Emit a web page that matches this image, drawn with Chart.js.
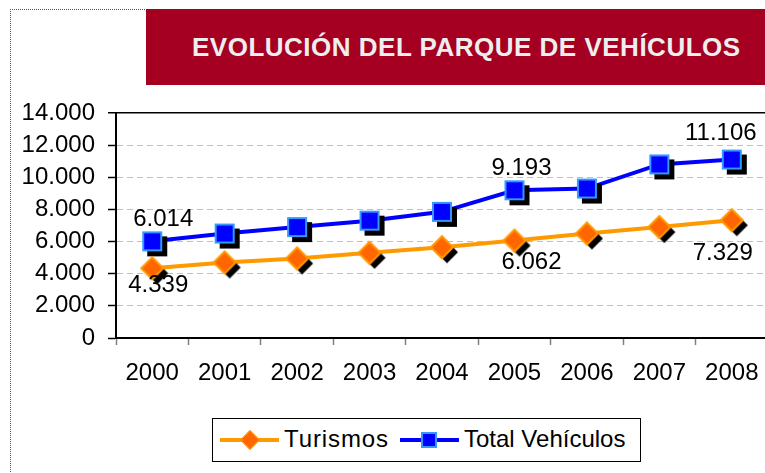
<!DOCTYPE html>
<html>
<head>
<meta charset="utf-8">
<script src="https://cdn.jsdelivr.net/npm/chart.js@4"></script>
<style>
  html, body { margin: 0; padding: 0; background: #fff; width: 765px; height: 473px; overflow: hidden; position: relative; font-family: "Liberation Sans", Arial, sans-serif; }
  #frame { position: absolute; left: 10px; top: 9px; width: 800px; height: 500px; border-left: 1px dotted #e0103c; border-top: 1px dotted #e0103c; }
  #chartCanvas { position: absolute; left: 0; top: 0; }
  #title { position: absolute; left: 146px; top: 9px; width: 640px; height: 76px; background: #a50021; color: #eeeeee; font-weight: bold; font-size: 26px; letter-spacing: 0.5px; line-height: 76px; padding-left: 46px; box-sizing: border-box; white-space: nowrap; }
  #legend { position: absolute; left: 212px; top: 418px; width: 429px; height: 44px; border: 1px solid #000; box-sizing: border-box; background: #fff; }
  .item { position: absolute; top: 0; height: 42px; }
  .line { position: absolute; top: 19px; height: 4px; width: 59px; }
  .mark { position: absolute; box-sizing: border-box; }
  .txt { position: absolute; top: 6px; font-size: 24px; line-height: 28px; color: #000; white-space: nowrap; }
</style>
</head>
<body>
<div id="frame"></div>
<canvas id="chartCanvas" width="800" height="473"></canvas>
<div id="title">EVOLUCIÓN DEL PARQUE DE VEHÍCULOS</div>
<div id="legend">
  <div class="item" style="left:7px">
    <div class="line" style="left:0;background:#ff9900"></div>
    <div class="mark" style="left:23px;top:14px;width:14px;height:14px;background:#ff6600;border:1px solid #ff9900;transform:rotate(45deg)"></div>
    <div class="txt" style="left:64px;letter-spacing:0.9px">Turismos</div>
  </div>
  <div class="item" style="left:187px">
    <div class="line" style="left:0;background:#0000ff"></div>
    <div class="mark" style="left:21px;top:13px;width:16px;height:16px;background:#0000ff;border:2px solid #3399ff"></div>
    <div class="txt" style="left:64px">Total Vehículos</div>
  </div>
</div>
<script>
const years = ['2000', '2001', '2002', '2003', '2004', '2005', '2006', '2007', '2008'];
const turismos = [4339, 4700, 4950, 5300, 5650, 6062, 6500, 6900, 7329];
const totalVehiculos = [6014, 6500, 6900, 7300, 7850, 9193, 9300, 10800, 11106];
const yTicks = [0, 2000, 4000, 6000, 8000, 10000, 12000, 14000];
const labelledPoints = [0, 5, 8];

function fmt(v) {
    return String(v).replace(/\B(?=(\d{3})+(?!\d))/g, '.');
}

// marker images with the black drop shadow baked in
function squareMarker() {
    const c = document.createElement('canvas');
    c.width = 40; c.height = 40;
    const g = c.getContext('2d');
    g.fillStyle = '#000';
    g.fillRect(15, 15, 20, 20);
    g.fillStyle = '#0000ff';
    g.fillRect(10, 10, 20, 20);
    g.strokeStyle = '#3399ff';
    g.lineWidth = 2;
    g.strokeRect(11, 11, 18, 18);
    return c;
}

function diamondMarker() {
    const c = document.createElement('canvas');
    c.width = 40; c.height = 40;
    const g = c.getContext('2d');
    const d = function(cx, cy, r) {
        g.beginPath();
        g.moveTo(cx, cy - r); g.lineTo(cx + r, cy); g.lineTo(cx, cy + r); g.lineTo(cx - r, cy);
        g.closePath();
    };
    d(25, 25, 11);
    g.fillStyle = '#000';
    g.fill();
    d(20, 20, 11);
    g.fillStyle = '#ff6600';
    g.fill();
    g.strokeStyle = '#ff9900';
    g.lineWidth = 2;
    g.stroke();
    return c;
}

// label offsets from the point centre (text centre)
const labelOffsets = [
    [[6, 17], [17, 22], [-9, 33]],
    [[11, -22], [7, -22], [-11, -26]]
];

const valueLabels = {
    id: 'valueLabels',
    afterDatasetsDraw(chart) {
        const ctx = chart.ctx;
        ctx.save();
        ctx.font = '24px "Liberation Sans", Arial, sans-serif';
        ctx.fillStyle = '#000';
        ctx.textAlign = 'center';
        ctx.textBaseline = 'middle';
        chart.data.datasets.forEach(function(ds, di) {
            const meta = chart.getDatasetMeta(di);
            labelledPoints.forEach(function(idx, k) {
                const p = meta.data[idx];
                const off = labelOffsets[di][k];
                ctx.fillText(fmt(ds.data[idx]), p.x + off[0], p.y + off[1]);
            });
        });
        ctx.restore();
    }
};

document.addEventListener('DOMContentLoaded', function() {
    const ctx = document.getElementById('chartCanvas').getContext('2d');
    new Chart(ctx, {
        type: 'line',
        data: {
            labels: years,
            datasets: [
                {
                    label: 'Turismos',
                    data: turismos,
                    borderColor: '#ff9900',
                    borderWidth: 4,
                    pointStyle: diamondMarker(),
                    tension: 0
                },
                {
                    label: 'Total Vehículos',
                    data: totalVehiculos,
                    borderColor: '#0000ff',
                    borderWidth: 4,
                    pointStyle: squareMarker(),
                    tension: 0
                }
            ]
        },
        options: {
            responsive: false,
            animation: false,
            clip: false,
            layout: { padding: { top: 113, right: 32, left: 0, bottom: 0 } },
            plugins: {
                legend: { display: false },
                tooltip: { enabled: false }
            },
            scales: {
                x: {
                    offset: true,
                    afterFit: function(scale) { scale.height = 135; },
                    grid: {
                        offset: true,
                        drawOnChartArea: false,
                        tickLength: 7,
                        tickColor: '#808080',
                        tickWidth: 1.5
                    },
                    border: { color: '#000', width: 2 },
                    ticks: {
                        color: '#000',
                        padding: 14,
                        maxRotation: 0,
                        font: { family: '"Liberation Sans", Arial, sans-serif', size: 24 }
                    }
                },
                y: {
                    min: 0,
                    max: 14000,
                    afterFit: function(scale) { scale.width = 116; },
                    afterBuildTicks: function(scale) {
                        scale.ticks = yTicks.map(function(v) { return { value: v }; });
                    },
                    grid: {
                        color: function(c) { return c.tick && c.tick.value === 14000 ? '#000' : '#c0c0c0'; },
                        lineWidth: function(c) { return c.tick && c.tick.value === 14000 ? 1.5 : 1; },
                        tickColor: '#000',
                        tickLength: 8,
                        tickWidth: 1.5
                    },
                    border: {
                        color: '#000',
                        width: 2,
                        dash: function(c) { return c.tick && c.tick.value === 14000 ? [] : [6, 4]; }
                    },
                    ticks: {
                        color: '#000',
                        padding: 13,
                        font: { family: '"Liberation Sans", Arial, sans-serif', size: 24 },
                        callback: function(v) { return fmt(v); }
                    }
                }
            }
        },
        plugins: [valueLabels]
    });
});
</script>
</body>
</html>
